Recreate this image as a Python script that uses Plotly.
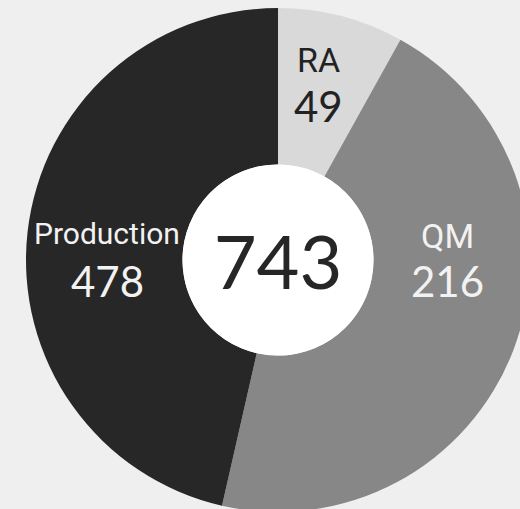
import plotly.graph_objects as go

categories = ["RA", "QM", "Production"]
values = [49, 216, 478]            # numbers printed on the chart
arc_values = [60, 338, 345]        # slice sizes as drawn in the reference
colors = ["#d9d9d9", "#878787", "#272727"]
text_colors = ["#222222", "#f2f2f2", "#f2f2f2"]
total = sum(values)

W, H = 556, 520
ML, MR, MT, MB = 26, 26, 8, 8
PW, PH = W - ML - MR, H - MT - MB

def px2paper(px, py):
    return (px - ML) / PW, 1 - (py - MT) / PH

fig = go.Figure()
fig.add_trace(go.Pie(
    labels=categories, values=arc_values, sort=False, direction="clockwise",
    rotation=0, hole=0.379, marker=dict(colors=colors, line=dict(width=0)),
    textinfo="none", hoverinfo="label", showlegend=False,
))
r_in = 95.5 / PW
fig.add_trace(go.Pie(
    labels=["Total"], values=[total], sort=False,
    domain=dict(x=[0.5 - r_in, 0.5 + r_in], y=[0.5 - r_in, 0.5 + r_in]),
    marker=dict(colors=["#ffffff"], line=dict(width=0)),
    textinfo="value", textposition="inside",
    insidetextfont=dict(family="Lato", size=74, color="#262626"),
    hoverinfo="skip", showlegend=False,
))

name_pos = {"RA": (318, 60), "QM": (447, 236), "Production": (107, 234)}
val_pos = {"RA": (318, 106), "QM": (447, 281), "Production": (107, 281)}
name_size = {"RA": 34, "QM": 34, "Production": 30}

annotations = []
for cat, v, tc in zip(categories, values, text_colors):
    x, y = px2paper(*name_pos[cat])
    annotations.append(dict(x=x, y=y, xref="paper", yref="paper", text=cat,
                            showarrow=False, xanchor="center", yanchor="middle",
                            font=dict(family="Roboto", size=name_size[cat], color=tc)))
    x, y = px2paper(*val_pos[cat])
    annotations.append(dict(x=x, y=y, xref="paper", yref="paper", text=str(v),
                            showarrow=False, xanchor="center", yanchor="middle",
                            font=dict(family="Lato", size=42, color=tc)))

fig.update_layout(
    width=W, height=H, margin=dict(l=ML, r=MR, t=MT, b=MB),
    paper_bgcolor="#efefef", plot_bgcolor="#efefef",
    annotations=annotations,
)

fig.write_html("out.html", config={"displayModeBar": False},
               post_script="document.body.style.margin='0';document.body.style.overflow='hidden';")
